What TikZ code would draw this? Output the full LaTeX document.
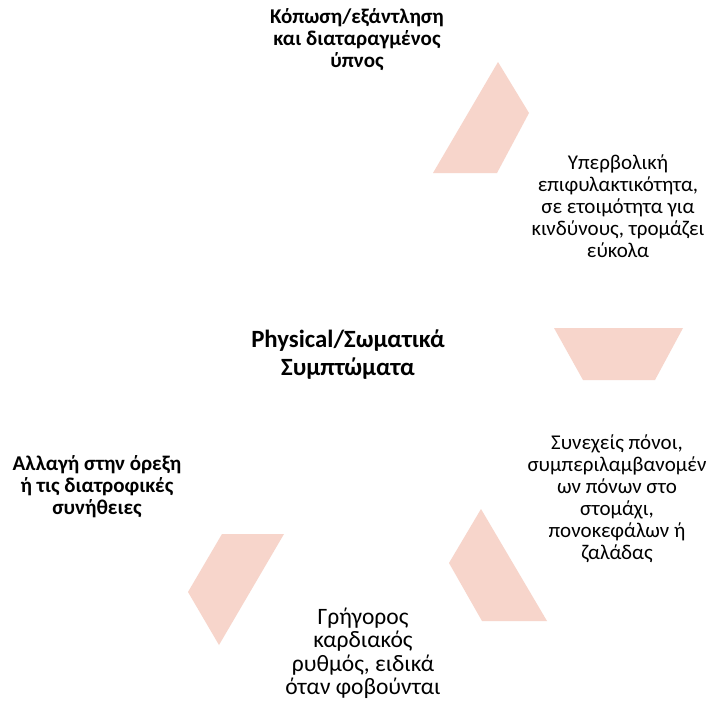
\documentclass[tikz,border=0pt]{standalone}
\usepackage{fontspec}
\setmainfont{Carlito}
\definecolor{chev}{RGB}{247,213,203}
\begin{document}
\begin{tikzpicture}[x=1pt,y=-1pt,
  lbl/.style={align=center,inner sep=0pt,font=\fontsize{21}{22}\selectfont},
  blbl/.style={lbl,font=\fontsize{21}{22}\selectfont\bfseries},
  biglbl/.style={align=center,inner sep=0pt,font=\fontsize{23.5}{23.5}\selectfont},
  ctr/.style={align=center,inner sep=0pt,font=\fontsize{24.8}{28}\selectfont\bfseries},
  shp/.style={fill=chev,draw=none}]
\useasboundingbox (0,0) rectangle (712,707);
\fill[white] (0,0) rectangle (712,707);
% chevron shapes
\fill[shp] (433,173) -- (498,62) -- (529,113) -- (497,173) -- cycle;
\fill[shp] (554,328) -- (683,328) -- (655,380) -- (583,380) -- cycle;
\fill[shp] (481,509) -- (449,563) -- (482,621) -- (547,621) -- cycle;
\fill[shp] (222,534) -- (284,534) -- (219,645) -- (188,592) -- cycle;
% texts
\node[blbl] (t1) at (357,40) {Κόπωση/εξάντληση\\και διαταραγμένος\\ύπνος};
\node[lbl] (t2) at (618,206) {Υπερβολική\\επιφυλακτικότητα,\\σε ετοιμότητα για\\κινδύνους, τρομάζει\\εύκολα};
\node[ctr] (c) at (348,355) {Physical/Σωματικά\\Συμπτώματα};
\node[lbl] (t4) at (617,499) {Συνεχείς πόνοι,\\συμπεριλαμβανομέν\\ων πόνων στο\\στομάχι,\\πονοκεφάλων ή\\ζαλάδας};
\node[blbl] (t5) at (97,487) {Αλλαγή στην όρεξη\\ή τις διατροφικές\\συνήθειες};
\node[biglbl] (t6) at (363,653) {Γρήγορος\\καρδιακός\\ρυθμός, ειδικά\\όταν φοβούνται};
\end{tikzpicture}
\end{document}
